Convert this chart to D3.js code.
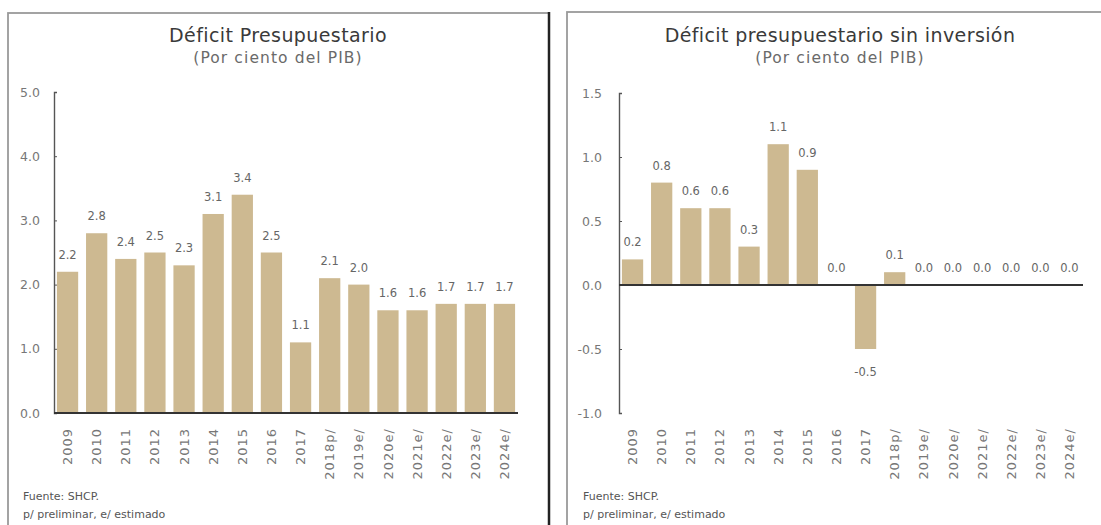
<!DOCTYPE html>
<html>
<head>
<meta charset="utf-8">
<script src="https://cdn.jsdelivr.net/npm/d3@7"></script>
<style>
  body { margin: 0; background: #fff; }
  svg { display: block; font-family: "DejaVu Sans", sans-serif; }
</style>
</head>
<body>
<svg width="1101" height="525"></svg>
<script>
// data
var years = ["2009","2010","2011","2012","2013","2014","2015","2016","2017","2018p/","2019e/","2020e/","2021e/","2022e/","2023e/","2024e/"];
var deficit = [2.2, 2.8, 2.4, 2.5, 2.3, 3.1, 3.4, 2.5, 1.1, 2.1, 2.0, 1.6, 1.6, 1.7, 1.7, 1.7];
var deficitSinInv = [0.2, 0.8, 0.6, 0.6, 0.3, 1.1, 0.9, 0.0, -0.5, 0.1, 0.0, 0.0, 0.0, 0.0, 0.0, 0.0];
var ticksLeft = [0, 1, 2, 3, 4, 5];
var ticksRight = [-1, -0.5, 0, 0.5, 1, 1.5];

var barColor = "#cdb991";
var fmt = function(v) { return d3.format(".1f")(v).replace("\u2212", "-"); };
var svg = d3.select("svg");

// panel frames
svg.append("rect").attr("x", 8).attr("y", 13).attr("width", 541).attr("height", 530)
   .attr("fill", "none").attr("stroke", "#9a9a9a").attr("stroke-width", 1.8);
svg.append("line").attr("x1", 549).attr("x2", 549).attr("y1", 12).attr("y2", 525)
   .attr("stroke", "#222").attr("stroke-width", 2.5);
svg.append("rect").attr("x", 567).attr("y", 12).attr("width", 560).attr("height", 530)
   .attr("fill", "none").attr("stroke", "#9a9a9a").attr("stroke-width", 1.8);

function drawChart(opt) {
  var g = svg.append("g");

  g.append("text").attr("x", opt.cx).attr("y", 42).attr("text-anchor", "middle")
   .attr("font-size", 19).attr("letter-spacing", 0.4).attr("fill", "#3a3a3a").text(opt.title);
  g.append("text").attr("x", opt.cx).attr("y", 63).attr("text-anchor", "middle")
   .attr("font-size", 15.5).attr("letter-spacing", 1.1).attr("fill", "#6a6a6a").text("(Por ciento del PIB)");

  var x = d3.scaleBand().domain(years).range([opt.x0, opt.x1])
            .paddingInner(0.27).paddingOuter(0.1);
  var y = d3.scaleLinear().domain(opt.domain).range([413, opt.yTop]);

  // y axis
  var ya = g.append("g").attr("transform", "translate(" + opt.x0 + ",0)")
            .call(d3.axisLeft(y).tickValues(opt.ticks).tickFormat(fmt)
                    .tickSizeInner(-3).tickSizeOuter(-3).tickPadding(opt.pad));
  ya.select(".domain").attr("stroke", "#555").attr("stroke-width", 1.4);
  ya.selectAll(".tick line").attr("stroke", "#555");
  ya.selectAll("text").attr("font-size", 12.5).attr("fill", "#777")
    .attr("font-family", "DejaVu Sans, sans-serif");

  // bars
  g.selectAll(".bar").data(opt.values).enter().append("rect")
   .attr("x", function(d, i) { return x(years[i]); })
   .attr("width", x.bandwidth())
   .attr("y", function(d) { return y(Math.max(0, d)); })
   .attr("height", function(d) { return Math.abs(y(d) - y(0)); })
   .attr("fill", barColor);

  // value labels
  g.selectAll(".val").data(opt.values).enter().append("text")
   .attr("x", function(d, i) { return x(years[i]) + x.bandwidth() / 2; })
   .attr("y", function(d) { return d < 0 ? y(d) + 27 : y(d) - 13; })
   .attr("text-anchor", "middle").attr("font-size", 11.5).attr("fill", "#666")
   .text(function(d) { return fmt(d); });

  // zero line
  g.append("line").attr("x1", opt.x0).attr("x2", opt.x1)
   .attr("y1", y(0)).attr("y2", y(0))
   .attr("stroke", "#333").attr("stroke-width", 2.2);

  // category labels
  var xa = g.append("g").attr("transform", "translate(0,413)")
            .call(d3.axisBottom(x).tickSize(0));
  xa.select(".domain").remove();
  xa.selectAll("text")
    .attr("transform", "rotate(-90)")
    .attr("x", -15).attr("y", 0).attr("dy", "0.35em")
    .attr("text-anchor", "end").attr("font-size", 13).attr("letter-spacing", 1)
    .attr("fill", "#777").attr("font-family", "DejaVu Sans, sans-serif");

  // notes
  g.append("text").attr("x", opt.noteX).attr("y", 500).attr("font-size", 11)
   .attr("fill", "#555").text("Fuente: SHCP.");
  g.append("text").attr("x", opt.noteX).attr("y", 518).attr("font-size", 11)
   .attr("fill", "#555").text("p/ preliminar, e/ estimado");
}

drawChart({
  title: "Déficit Presupuestario", cx: 278,
  values: deficit, domain: [0, 5], ticks: ticksLeft, yTop: 92,
  x0: 54, x1: 518, pad: 14, noteX: 23
});
drawChart({
  title: "Déficit presupuestario sin inversión", cx: 840,
  values: deficitSinInv, domain: [-1, 1.5], ticks: ticksRight, yTop: 93,
  x0: 619, x1: 1083, pad: 17, noteX: 583
});
</script>
</body>
</html>
